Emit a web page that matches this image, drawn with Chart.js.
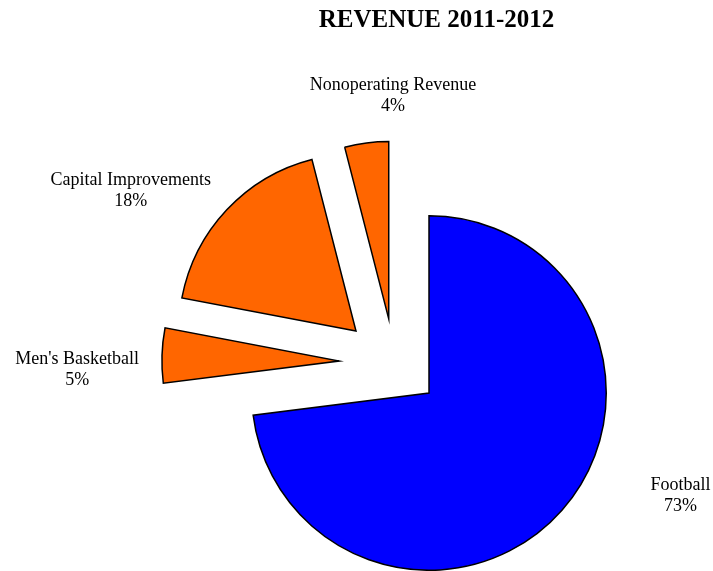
<!DOCTYPE html>
<html>
<head>
<meta charset="utf-8">
<title>Revenue 2011-2012</title>
<script src="https://cdn.jsdelivr.net/npm/chart.js@4.4.0/dist/chart.umd.min.js"></script>
<style>
    html, body { margin: 0; padding: 0; background: #ffffff; }
</style>
</head>
<body>
<canvas id="grafica" width="713" height="571"></canvas>
<script type="text/javascript">

    // Revenue sources, clockwise from 12 o'clock
    var categories = ["Football", "Men's Basketball", "Capital Improvements", "Nonoperating Revenue"]
    // Share of total revenue, in percent
    var shares = [73, 5, 18, 4]
    var sliceColors = ["#0000ff", "#ff6600", "#ff6600", "#ff6600"]

    // How far each slice is pulled out: direction (degrees clockwise from top) and
    // distance as a fraction of the radius
    var explodeDir = [0, 289.6, 310.3, 331.5]
    var explodeDist = [0, 0.538, 0.54, 0.476]

    // Where the name + percent sits, measured from the pie centre the same way
    var labelDir = [112.2, 273.7, 304.2, 353.1]
    var labelDist = [1.532, 1.989, 2.034, 1.69]

    var chartTitle = "REVENUE 2011-2012"

    function toRad(deg) {
        return (deg - 90) * Math.PI / 180
    }

    // pull slices away from the centre after the controller has placed them
    var explodePlugin = {
        id: 'explode',
        afterDatasetUpdate: function(chart, args) {
            args.meta.data.forEach(function(arc, i) {
                var d = arc.outerRadius * explodeDist[i]
                arc.x += Math.cos(toRad(explodeDir[i])) * d
                arc.y += Math.sin(toRad(explodeDir[i])) * d
            })
        }
    }

    // title and slice labels
    var labelsPlugin = {
        id: 'sliceLabels',
        afterDraw: function(chart) {
            var ctx = chart.ctx
            var area = chart.chartArea
            var cx = (area.left + area.right) / 2
            var cy = (area.top + area.bottom) / 2
            var r = chart.getDatasetMeta(0).data[0].outerRadius

            ctx.save()
            ctx.fillStyle = "#000000"
            ctx.textAlign = "center"

            ctx.font = 'bold 25px "Liberation Serif"'
            ctx.textBaseline = "alphabetic"
            ctx.fillText(chartTitle, cx + 7.5, 27)

            ctx.font = '18px "Liberation Serif"'
            ctx.textBaseline = "middle"
            chart.data.labels.forEach(function(name, i) {
                var x = cx + Math.cos(toRad(labelDir[i])) * r * labelDist[i]
                var y = cy + Math.sin(toRad(labelDir[i])) * r * labelDist[i]
                ctx.fillText(name, x, y - 10.5)
                ctx.fillText(chart.data.datasets[0].data[i] + "%", x, y + 10.5)
            })
            ctx.restore()
        }
    }

    var canvas = document.getElementById('grafica')
    var context = canvas.getContext('2d')

    var datos = {
        labels: categories,
        datasets: [{
            data: shares,
            backgroundColor: sliceColors,
            borderColor: "#000000",
            borderWidth: 1.5,
            borderJoinStyle: "miter",
            clip: false
        }]
    }

    window.pie = new Chart(context, {
        type: "pie",
        data: datos,
        options: {
            responsive: false,
            animation: false,
            events: [],
            layout: {
                padding: { left: 251, right: 106, top: 215, bottom: 0 }
            },
            plugins: {
                legend: { display: false },
                tooltip: { enabled: false },
                title: { display: false }
            }
        },
        plugins: [explodePlugin, labelsPlugin]
    })

</script>
</body>
</html>
